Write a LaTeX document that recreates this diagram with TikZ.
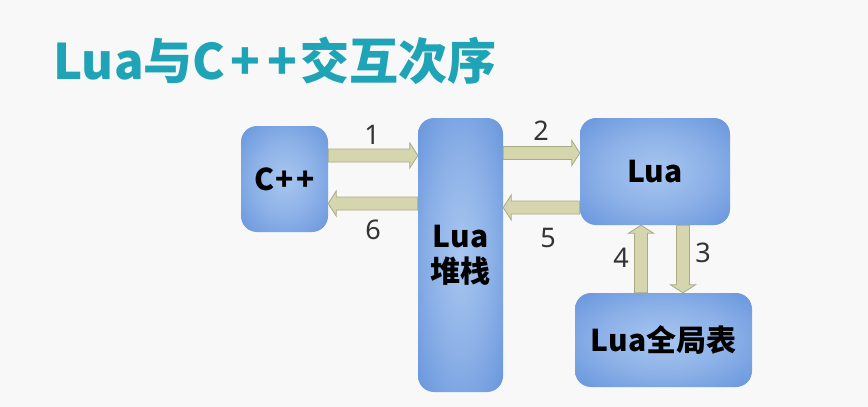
\documentclass[tikz,border=0pt]{standalone}
\usepackage{fontspec}
\setmainfont{Noto Sans}
\newfontfamily\cjk{Noto Sans CJK SC}
\usetikzlibrary{calc}
\definecolor{bg}{HTML}{F8F8F8}
\definecolor{titlecol}{HTML}{1FA3B6}
\definecolor{boxin}{HTML}{A8C6F0}
\definecolor{boxout}{HTML}{5A8BD8}
\definecolor{arrfill}{HTML}{D6D6AE}
\definecolor{arrline}{HTML}{A9A985}
\definecolor{numcol}{HTML}{333333}
\pgfdeclareradialshading{boxshade}{\pgfpoint{0bp}{0bp}}{color(0bp)=(boxin); color(18bp)=(boxin!65!boxout); color(42bp)=(boxout); color(50bp)=(boxout)}
\newcommand\blockarrow[2]{%
  \coordinate (bb) at ($(#2)!8pt!(#1)$);
  \filldraw[arr] ($(#1)!6.5pt!90:(#2)$) -- ($(bb)!6.5pt!90:(#2)$) -- ($(bb)!12.5pt!90:(#2)$) -- (#2)
    -- ($(bb)!12.5pt!-90:(#2)$) -- ($(bb)!6.5pt!-90:(#2)$) -- ($(#1)!6.5pt!-90:(#2)$) -- cycle;}
\begin{document}
\begin{tikzpicture}[x=1pt,y=-1pt,
  box/.style={rounded corners=16pt, shading=boxshade, inner sep=0pt,
    font=\cjk\bfseries\fontsize{30}{35}\selectfont, align=center},
  arr/.style={fill=arrfill, draw=arrline, line width=0.8pt, line join=miter},
  num/.style={font=\fontsize{27}{30}\selectfont, text=numcol, inner sep=0pt}]
\fill[bg] (0,0) rectangle (868,407);
\useasboundingbox (0,0) rectangle (868,407);
\node[anchor=west, text=titlecol, font=\cjk\bfseries\fontsize{49}{55}\selectfont, inner sep=0pt] (title) at (53,61) {Lua与C\kern5pt+\kern7pt+\kern3pt交互次序};
\node[box, minimum width=87pt, minimum height=106pt] (cpp) at (284.5,179) {C\kern1pt+\kern2pt+};
\node[box, minimum width=85pt, minimum height=274pt] (stack) at (460.5,255) {Lua\\堆栈};
\node[box, minimum width=150pt, minimum height=107pt] (lua) at (655,171.5) {Lua};
\node[box, minimum width=177pt, minimum height=94pt] (glob) at (663.5,340) {Lua全局表};
\blockarrow{cpp.east |- 0,155.5}{stack.west |- 0,155.5}
\blockarrow{stack.west |- 0,203.5}{cpp.east |- 0,203.5}
\blockarrow{stack.east |- 0,153}{lua.west |- 0,153}
\blockarrow{lua.west |- 0,207.5}{stack.east |- 0,207.5}
\blockarrow{glob.north -| 641,0}{lua.south -| 641,0}
\blockarrow{lua.south -| 683,0}{glob.north -| 683,0}
\node[num] (n1) at (372,135) {1};
\node[num] (n2) at (541,131) {2};
\node[num] (n6) at (373,230) {6};
\node[num] (n5) at (548,238) {5};
\node[num] (n4) at (621,258) {4};
\node[num] (n3) at (703,253) {3};
\end{tikzpicture}
\end{document}
